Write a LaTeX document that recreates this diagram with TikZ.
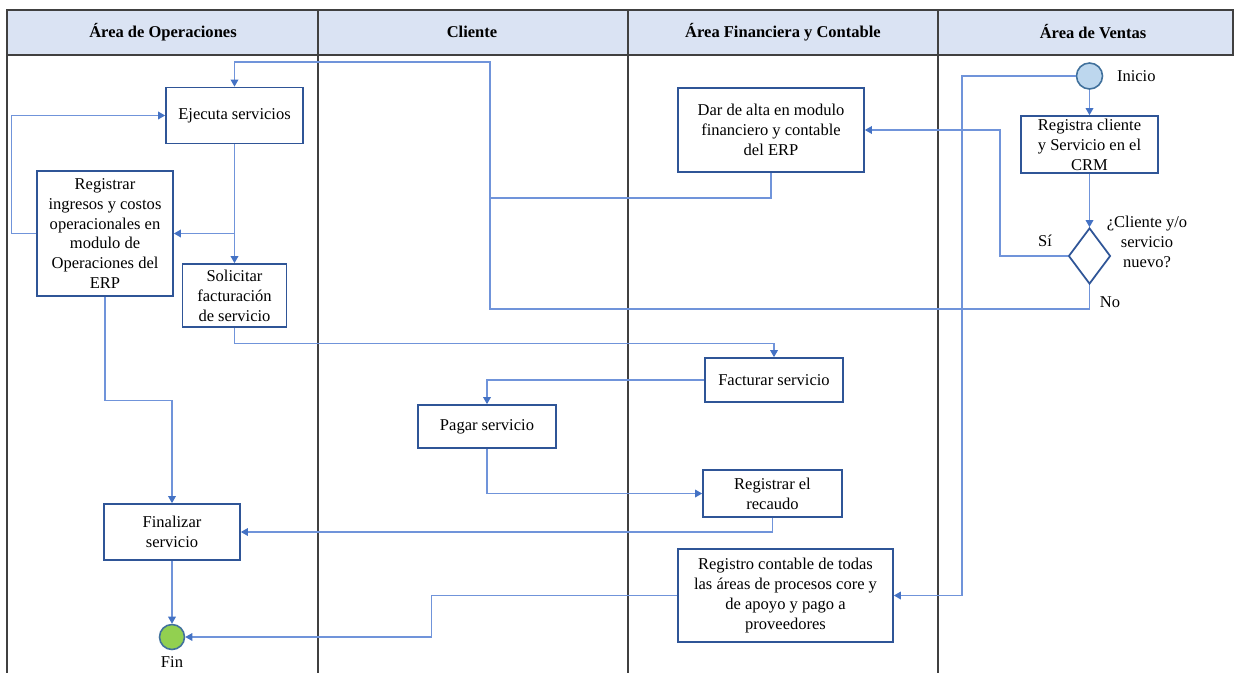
\documentclass[tikz,border=0pt]{standalone}
\usepackage{fontspec}
\setmainfont{Liberation Serif}
\usetikzlibrary{positioning,shapes.geometric,arrows.meta}
\definecolor{lanegray}{RGB}{64,64,64}
\definecolor{headfill}{RGB}{218,227,243}
\definecolor{boxblue}{RGB}{47,85,151}
\definecolor{linkblue}{RGB}{112,148,218}
\definecolor{tipblue}{RGB}{68,114,196}
\definecolor{startfill}{RGB}{189,215,238}
\definecolor{evborder}{RGB}{65,113,156}
\definecolor{endfill}{RGB}{146,208,80}

\begin{document}
\begin{tikzpicture}[x=0.02cm,y=-0.02cm]
\tikzstyle{every node}+=[font=\fontsize{9.4}{11.3}\selectfont, align=center]
\tikzstyle{actbox}=[draw=boxblue, line width=1pt, fill=white, inner sep=1pt]
\tikzstyle{link}=[draw=linkblue, line width=0.6pt]
\tikzstyle{flow}=[link, -{Triangle[length=4pt,width=4.4pt,color=tipblue]}]
\tikzstyle{startev}=[circle, draw=evborder, line width=0.9pt, fill=startfill, minimum size=0.52cm, inner sep=0pt]
\tikzstyle{endev}=[circle, draw=evborder, line width=0.9pt, fill=endfill, minimum size=0.5cm, inner sep=0pt]
\tikzstyle{gateway}=[diamond, draw=boxblue, line width=1pt, fill=white, minimum width=0.84cm, minimum height=1.12cm, inner sep=0pt]
\useasboundingbox (0,0) rectangle (1234,673);
% lanes
\draw [lanegray, line width=1pt, fill=headfill] (7,10) rectangle (1233,55);
\foreach \lx in {7,318,628,938}
  \draw [lanegray, line width=1pt] (\lx,10) -- (\lx,673);
\node (hops) at (163,32) {\bfseries Área de Operaciones};
\node (hcli) at (472,32) {\bfseries Cliente};
\node (hfin) at (783,32) {\bfseries Área Financiera y Contable};
\node (hven) at (1093,32) {\bfseries Área de Ventas};
% Area de Operaciones
\node [actbox, minimum width=2.74cm, minimum height=1.12cm] (ejec) at (234.5,115.5) {Ejecuta servicios};
\node [actbox, minimum width=2.72cm, minimum height=2.5cm] (regop) at (105,233.5) {Registrar\\ingresos y costos\\operacionales en\\modulo de\\Operaciones del\\ERP};
\node [actbox, minimum width=2.08cm, minimum height=1.26cm] (solic) at (234.5,295.5) {Solicitar\\facturación\\de servicio};
\node [actbox, minimum width=2.72cm, minimum height=1.12cm] (final) at (172,532) {Finalizar\\servicio};
\node [endev] (fin) at (172,637) {};
\node [below=0pt of fin] (finlbl) {Fin};
% Cliente
\node [actbox, minimum width=2.76cm, minimum height=0.86cm] (pagar) at (487,426.5) {Pagar servicio};
% Area Financiera y Contable
\node [actbox, minimum width=3.72cm, minimum height=1.68cm] (alta) at (771,130) {Dar de alta en modulo\\financiero y contable\\del ERP};
\node [actbox, minimum width=2.76cm, minimum height=0.88cm] (fact) at (774,380) {Facturar servicio};
\node [actbox, minimum width=2.78cm, minimum height=0.94cm] (recaudo) at (772.5,493.5) {Registrar el\\recaudo};
\node [actbox, minimum width=4.3cm, minimum height=1.86cm] (regcont) at (785.5,595.5) {Registro contable de todas\\las áreas de procesos core y\\de apoyo y pago a\\proveedores};
% Area de Ventas
\node [startev] (inicio) at (1089.5,76) {};
\node [right=0.15cm of inicio] (inilbl) {Inicio};
\node [actbox, minimum width=2.74cm, minimum height=1.14cm] (regcrm) at (1089.5,144.5) {Registra cliente\\y Servicio en el\\CRM};
\node [gateway] (nuevo) at (1089.5,256) {};
\node (pregunta) at (1147,242) {¿Cliente y/o\\servicio\\nuevo?};
\node (si) at (1045,241) {Sí};
\node (no) at (1110,302) {No};
% flujos
\draw [flow] (inicio) -- (regcrm);
\draw [flow] (inicio.west) -- (962,76) |- (regcont.east);
\draw [flow] (regcrm) -- (nuevo);
\draw [flow] (nuevo.west) -- (1000,256) |- (alta.east);
\draw [flow] (nuevo.south) |- (490,309) -- (490,62) -| (ejec.north);
\draw [link] (alta.south) |- (490,198);
\draw [flow] (ejec.south) |- (regop.east);
\draw [flow] (ejec.south) -- (solic.north);
\draw [flow] (regop.west) -- ++(-25,0) |- (ejec.west);
\draw [flow] (regop.south) -- ++(0,104) -| (final.north);
\draw [flow] (solic.south) -- ++(0,16) -| (fact.north);
\draw [flow] (fact.west) -| (pagar.north);
\draw [flow] (pagar.south) |- (recaudo.west);
\draw [flow] (recaudo.south) |- (final.east);
\draw [flow] (final.south) -- (fin.north);
\draw [flow] (regcont.west) -- ++(-246,0) |- (fin.east);
\end{tikzpicture}
\end{document}
